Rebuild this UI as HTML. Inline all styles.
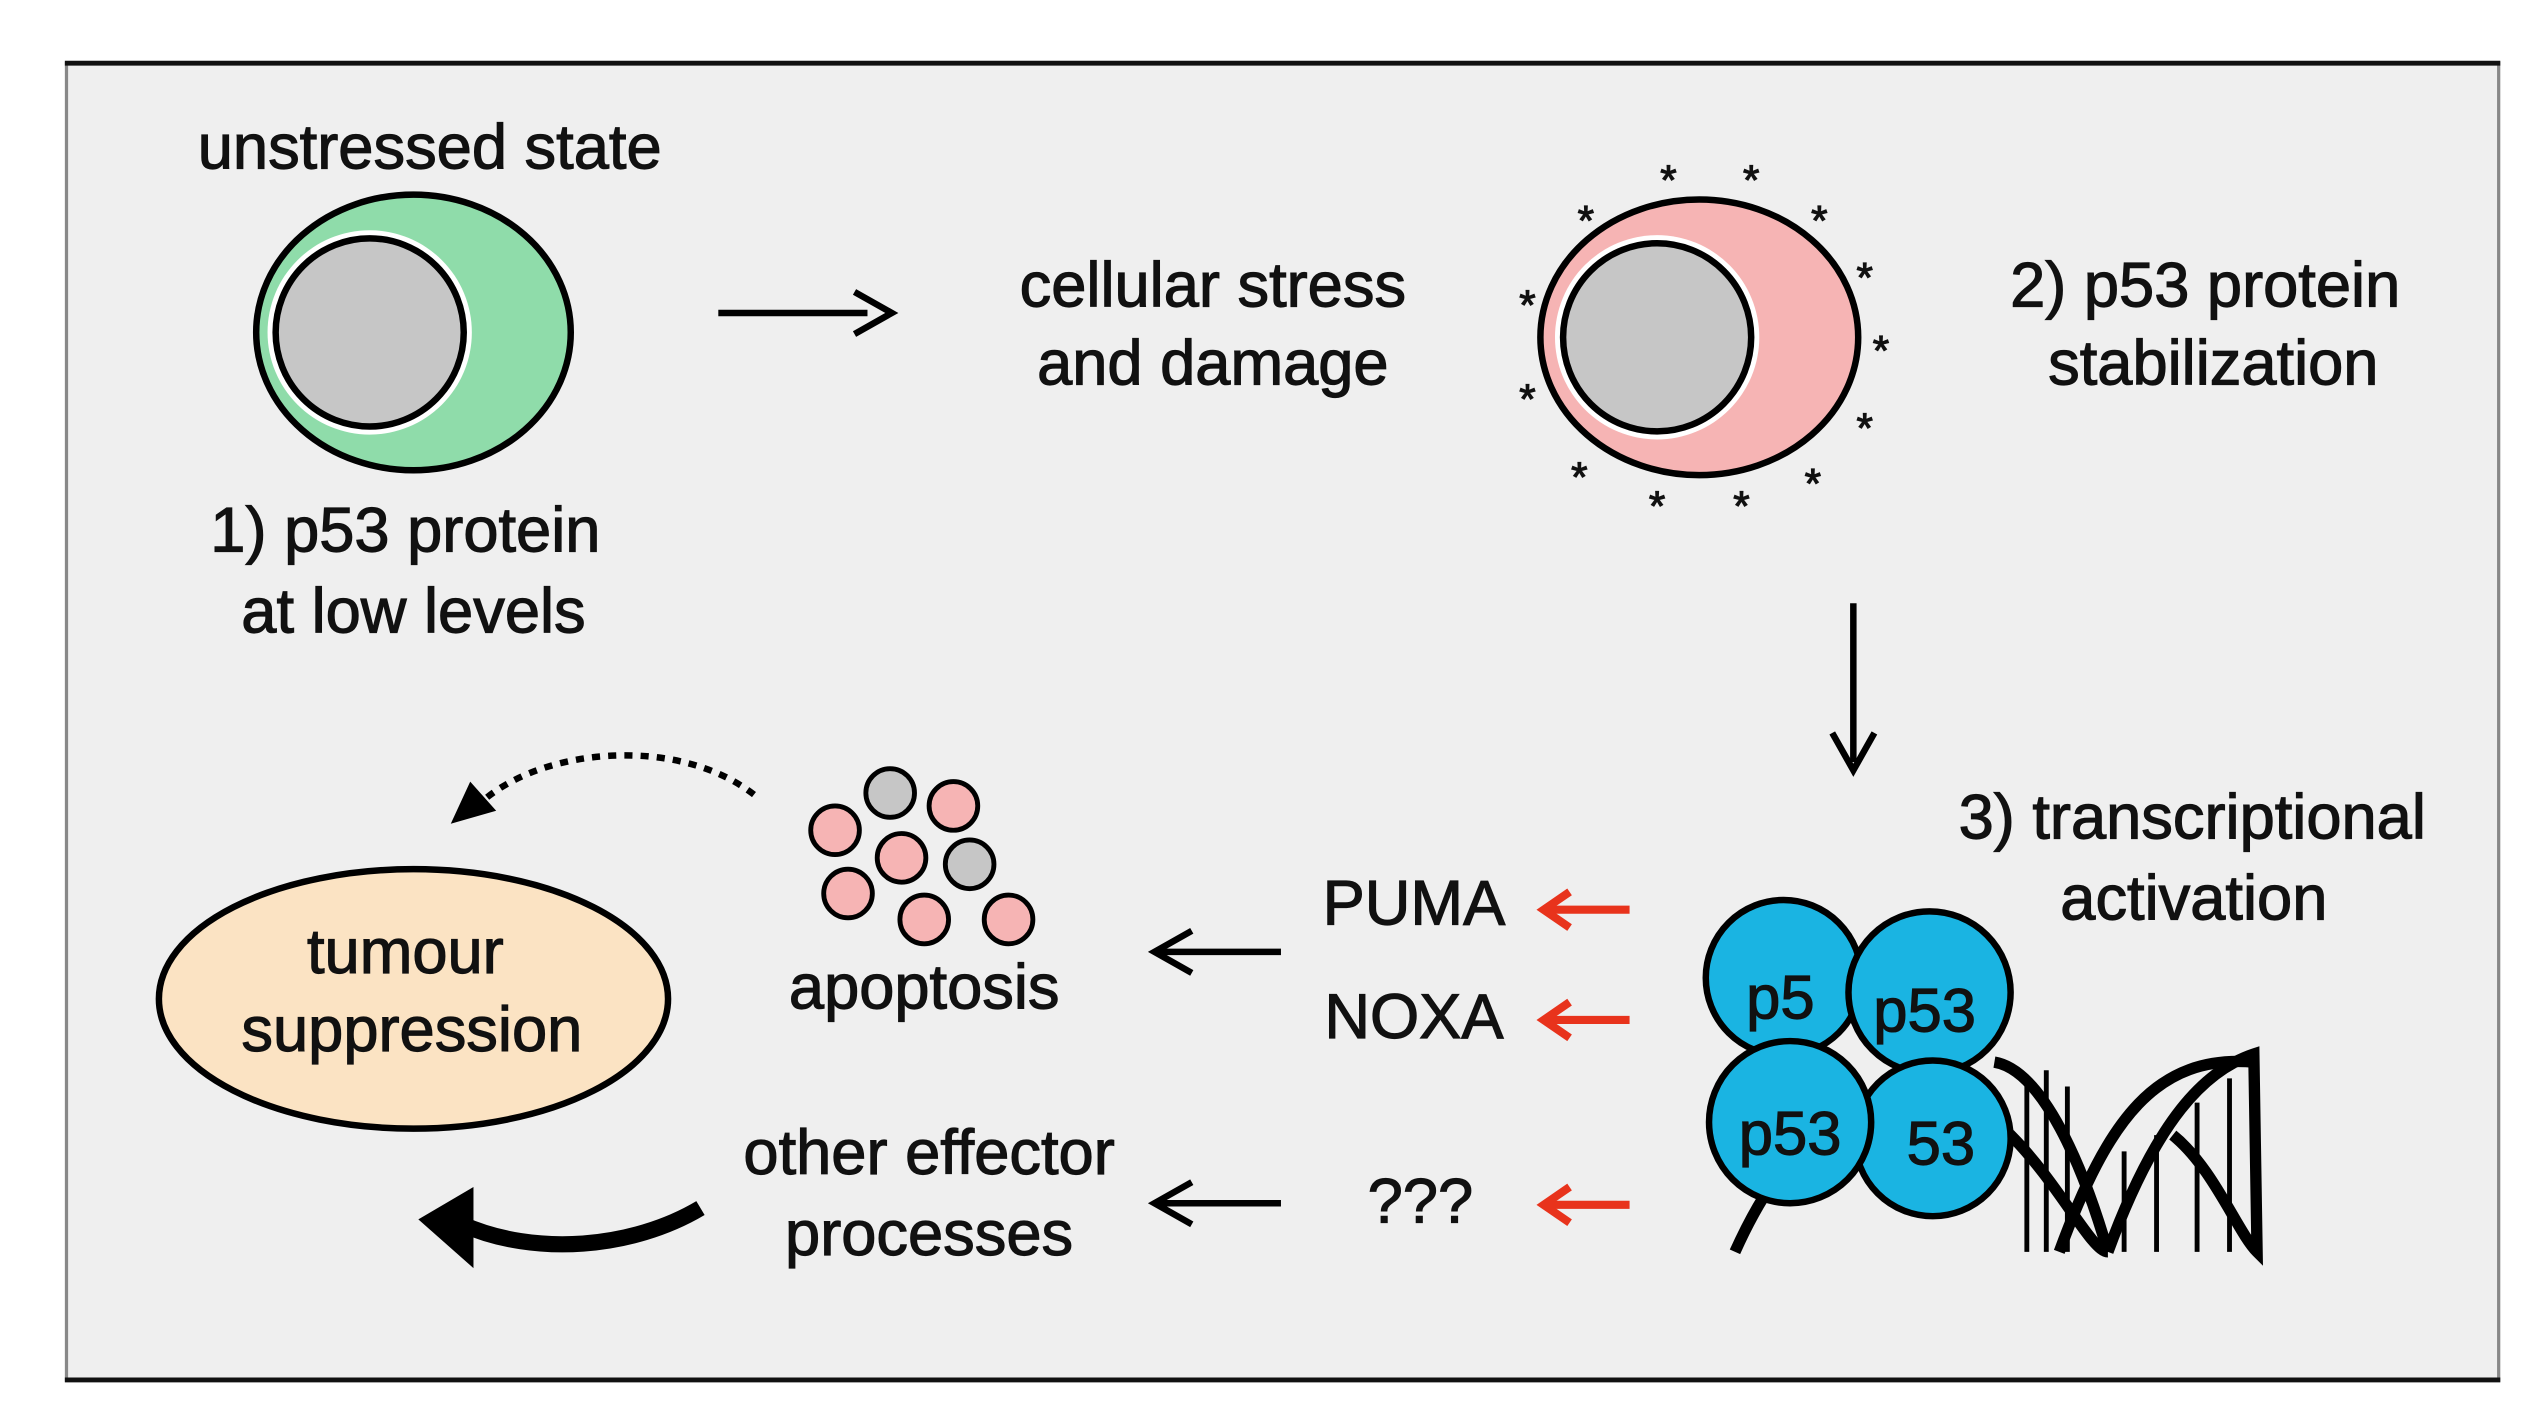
<!DOCTYPE html>
<html><head><style>
html,body{margin:0;padding:0;background:#fff;}
svg{display:block;}
text{font-family:"Liberation Sans",sans-serif;fill:#111;stroke:#111;stroke-width:0.7;}
</style></head><body>
<svg width="2523" height="1427" viewBox="0 0 1556 880" preserveAspectRatio="none" xmlns="http://www.w3.org/2000/svg">
<rect x="0" y="0" width="1556" height="880" fill="#fff"/>
<rect x="41" y="39" width="1500" height="812" fill="#efefef" stroke="#888" stroke-width="2"/>
<line x1="40" y1="39" x2="1542" y2="39" stroke="#111" stroke-width="3"/>
<line x1="40" y1="851" x2="1542" y2="851" stroke="#111" stroke-width="3"/>

<g font-size="39" text-anchor="middle">
<text x="265" y="104">unstressed state</text>
<text x="250" y="340">1) p53 protein</text>
<text x="255" y="390">at low levels</text>
<text x="748" y="189">cellular stress</text>
<text x="748" y="237">and damage</text>
<text x="1360" y="189">2) p53 protein</text>
<text x="1365" y="237">stabilization</text>
<text x="1352" y="517">3) transcriptional</text>
<text x="1353" y="567">activation</text>
<text x="872" y="570">PUMA</text>
<text x="872" y="640">NOXA</text>
<text x="876" y="754">???</text>
<text x="570" y="622">apoptosis</text>
<text x="573" y="724">other effector</text>
<text x="573" y="774">processes</text>
</g>

<ellipse cx="255" cy="205" rx="97" ry="85" fill="#8fdcaa" stroke="#000" stroke-width="4"/>
<circle cx="228" cy="205" r="63" fill="#fff"/>
<circle cx="228" cy="205" r="58" fill="#c6c6c6" stroke="#000" stroke-width="4"/>
<line x1="443" y1="193" x2="535" y2="193" stroke="#000" stroke-width="4"/>
<path d="M527,180 L550,193 L527,206" fill="none" stroke="#000" stroke-width="4"/>

<ellipse cx="1048" cy="208" rx="98" ry="85" fill="#f6b4b4" stroke="#000" stroke-width="4"/>
<circle cx="1022" cy="208" r="63" fill="#fff"/>
<circle cx="1022" cy="208" r="58" fill="#c6c6c6" stroke="#000" stroke-width="4"/>
<g font-size="26" text-anchor="middle">
<text x="1029" y="120">*</text><text x="1080" y="120">*</text><text x="1122" y="145">*</text>
<text x="978" y="145">*</text><text x="942" y="197">*</text><text x="1150" y="180">*</text>
<text x="1160" y="225">*</text><text x="942" y="255">*</text><text x="1150" y="273">*</text>
<text x="974" y="303">*</text><text x="1022" y="321">*</text><text x="1074" y="321">*</text><text x="1118" y="307">*</text>
</g>
<line x1="1143" y1="372" x2="1143" y2="470" stroke="#000" stroke-width="4"/>
<path d="M1130,452 L1143,475 L1156,452" fill="none" stroke="#000" stroke-width="4"/>

<g stroke="#e8331c" stroke-width="5" fill="none">
<line x1="1005" y1="561" x2="956" y2="561"/><path d="M968,550 L952,561 L968,572"/>
<line x1="1005" y1="629" x2="956" y2="629"/><path d="M968,618 L952,629 L968,640"/>
<line x1="1005" y1="743" x2="956" y2="743"/><path d="M968,732 L952,743 L968,754"/>
</g>
<g stroke="#000" stroke-width="4" fill="none">
<line x1="790" y1="587" x2="716" y2="587"/><path d="M735,574 L712,587 L735,600"/>
<line x1="790" y1="742" x2="716" y2="742"/><path d="M735,729 L712,742 L735,755"/>
</g>

<!-- DNA -->
<g stroke="#000" stroke-width="3">
<line x1="1250" y1="665" x2="1250" y2="772"/><line x1="1262" y1="660" x2="1262" y2="772"/>
<line x1="1275" y1="670" x2="1275" y2="772"/><line x1="1310" y1="710" x2="1310" y2="772"/>
<line x1="1330" y1="700" x2="1330" y2="772"/><line x1="1355" y1="680" x2="1355" y2="772"/>
<line x1="1375" y1="665" x2="1375" y2="772"/>
</g>
<g stroke="#000" stroke-width="7" fill="none">
<path d="M1070,772 C1120,660 1190,660 1240,700 C1270,730 1290,772 1300,772"/>
<path d="M1230,655 C1260,660 1285,720 1300,772"/>
<path d="M1270,772 C1300,690 1330,650 1390,655"/>
<path d="M1300,772 C1330,690 1360,660 1390,650 L1392,772 C1380,760 1365,720 1340,700"/>
</g>

<g stroke="#000" stroke-width="4" fill="#1ab4e2">
<circle cx="1100" cy="603" r="48"/>
<circle cx="1190" cy="612" r="50"/>
<circle cx="1192" cy="702" r="48"/>
<circle cx="1104" cy="692" r="50"/>
</g>
<g font-size="38" text-anchor="middle">
<text x="1098" y="628">p5</text>
<text x="1187" y="636">p53</text>
<text x="1104" y="712">p53</text>
<text x="1197" y="718">53</text>
</g>

<g stroke="#000" stroke-width="3">
<circle cx="515" cy="512" r="15" fill="#f6b4b4"/>
<circle cx="549" cy="489" r="15" fill="#c6c6c6"/>
<circle cx="588" cy="497" r="15" fill="#f6b4b4"/>
<circle cx="556" cy="529" r="15" fill="#f6b4b4"/>
<circle cx="598" cy="533" r="15" fill="#c6c6c6"/>
<circle cx="523" cy="551" r="15" fill="#f6b4b4"/>
<circle cx="570" cy="567" r="15" fill="#f6b4b4"/>
<circle cx="622" cy="567" r="15" fill="#f6b4b4"/>
</g>

<ellipse cx="255" cy="616" rx="157" ry="80" fill="#fbe3c3" stroke="#000" stroke-width="4"/>
<g font-size="39" text-anchor="middle">
<text x="250" y="600">tumour</text>
<text x="254" y="648">suppression</text>
</g>

<path d="M465,490 C420,455 340,460 300,492" fill="none" stroke="#000" stroke-width="4" stroke-dasharray="5,5"/>
<path d="M278,508 L290,482 L306,500 Z" fill="#000"/>
<path d="M432,745 C390,770 330,775 285,755" fill="none" stroke="#000" stroke-width="10"/>
<path d="M292,732 L258,752 L292,782 Z" fill="#000"/>
</svg>
</body></html>
